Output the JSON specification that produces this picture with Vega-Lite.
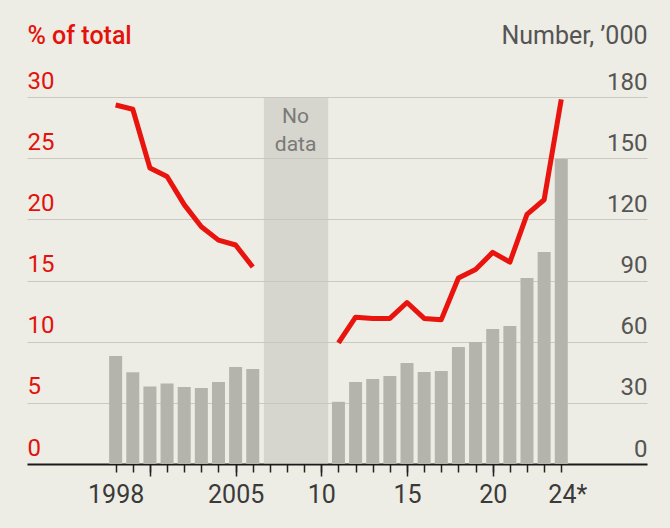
{
  "$schema": "https://vega.github.io/schema/vega-lite/v6.json",
  "description": "Share of total (red line, left axis) and number in thousands (grey bars, right axis), 1998-2024, with a gap for 2007-2010.",
  "autosize": "none",
  "width": 620,
  "height": 367,
  "padding": {"left": 27, "top": 97, "right": 23, "bottom": 64},
  "background": "#edece5",
  "datasets": {
    "series": [
      {"year": 1998, "seg": "a", "pct": 29.35, "num": 53},
      {"year": 1999, "seg": "a", "pct": 29.0, "num": 45},
      {"year": 2000, "seg": "a", "pct": 24.2, "num": 38},
      {"year": 2001, "seg": "a", "pct": 23.5, "num": 39.5},
      {"year": 2002, "seg": "a", "pct": 21.2, "num": 37.8},
      {"year": 2003, "seg": "a", "pct": 19.4, "num": 37.3},
      {"year": 2004, "seg": "a", "pct": 18.3, "num": 40.2},
      {"year": 2005, "seg": "a", "pct": 17.9, "num": 47.6},
      {"year": 2006, "seg": "a", "pct": 16.1, "num": 46.6},
      {"year": 2011, "seg": "b", "pct": 9.9, "num": 30.5},
      {"year": 2012, "seg": "b", "pct": 12.0, "num": 40.2},
      {"year": 2013, "seg": "b", "pct": 11.9, "num": 41.7},
      {"year": 2014, "seg": "b", "pct": 11.9, "num": 43.2},
      {"year": 2015, "seg": "b", "pct": 13.2, "num": 49.5},
      {"year": 2016, "seg": "b", "pct": 11.9, "num": 45.1},
      {"year": 2017, "seg": "b", "pct": 11.8, "num": 45.6},
      {"year": 2018, "seg": "b", "pct": 15.2, "num": 57.4},
      {"year": 2019, "seg": "b", "pct": 15.9, "num": 59.8},
      {"year": 2020, "seg": "b", "pct": 17.3, "num": 66.2},
      {"year": 2021, "seg": "b", "pct": 16.5, "num": 67.7},
      {"year": 2022, "seg": "b", "pct": 20.4, "num": 91.2},
      {"year": 2023, "seg": "b", "pct": 21.6, "num": 104},
      {"year": 2024, "seg": "b", "pct": 29.8, "num": 149.6}
    ],
    "gap": [
      {"start": 2006.65, "end": 2010.4, "mid": 2008.5, "low": 0, "high": 30, "label": "No data"}
    ]
  },
  "layer": [
    {
      "layer": [
        {
          "data": {"name": "gap"},
          "mark": {"type": "rect", "color": "#c6c6be", "opacity": 0.6},
          "encoding": {
            "x": {
              "field": "start",
              "type": "quantitative",
              "scale": {"domain": [1993.12, 2028.71], "nice": false, "zero": false},
              "axis": {
                "orient": "bottom",
                "values": [2000, 2005, 2010, 2015, 2020],
                "tickSize": 12,
                "tickWidth": 1.5,
                "tickColor": "#222222",
                "labels": false,
                "domain": false,
                "grid": false,
                "title": null
              }
            },
            "x2": {"field": "end"},
            "y": {
              "field": "low",
              "type": "quantitative",
              "scale": {"domain": [0, 30], "nice": false},
              "axis": {
                "orient": "left",
                "values": [0, 5, 10, 15, 20, 25, 30],
                "grid": true,
                "gridColor": "#c9c9c1",
                "gridWidth": 1.2,
                "ticks": false,
                "domain": false,
                "labelAlign": "left",
                "labelBaseline": "alphabetic",
                "labelPadding": 0,
                "labelOffset": -9,
                "labelFont": "Roboto",
                "labelFontSize": 24,
                "labelColor": "#e3120b",
                "title": "% of total",
                "titleAngle": 0,
                "titleX": 0,
                "titleY": -54,
                "titleAlign": "left",
                "titleBaseline": "alphabetic",
                "titleFont": "Roboto",
                "titleFontSize": 25,
                "titleFontWeight": 500,
                "titleColor": "#e3120b"
              }
            },
            "y2": {"field": "high"}
          }
        },
        {
          "data": {"name": "gap"},
          "mark": {"type": "text", "font": "Roboto", "fontSize": 21, "color": "#7a7a76", "baseline": "top", "dy": 9, "lineHeight": 28, "lineBreak": " "},
          "encoding": {
            "x": {"field": "mid", "type": "quantitative"},
            "y": {"field": "high", "type": "quantitative"},
            "text": {"field": "label"}
          }
        },
        {
          "data": {"name": "series"},
          "mark": {"type": "line", "color": "#e8140d", "strokeWidth": 5, "strokeJoin": "round", "strokeCap": "butt"},
          "encoding": {
            "x": {"field": "year", "type": "quantitative"},
            "y": {"field": "pct", "type": "quantitative"},
            "detail": {"field": "seg"}
          }
        }
      ]
    },
    {
      "data": {"name": "series"},
      "mark": {"type": "bar", "color": "#b4b4ac", "width": 13},
      "encoding": {
        "x": {
          "field": "year",
          "type": "quantitative",
          "axis": {
            "orient": "bottom",
            "values": [1998, 1999, 2000, 2001, 2002, 2003, 2004, 2005, 2006, 2007, 2008, 2009, 2010, 2011, 2012, 2013, 2014, 2015, 2016, 2017, 2018, 2019, 2020, 2021, 2022, 2023, 2024],
            "format": "d",
            "labelExpr": "datum.value == 1998 || datum.value == 2005 ? '' + datum.value : datum.value == 2024 ? '24*' : (datum.value == 2010 || datum.value == 2015 || datum.value == 2020) ? slice('' + datum.value, 2) : ''",
            "labelOffset": {"condition": {"test": "datum.value == 2024", "value": 6}, "value": 0},
            "tickSize": 8,
            "tickWidth": 1.5,
            "tickColor": "#222222",
            "domainColor": "#1a1a1a",
            "domainWidth": 2,
            "grid": false,
            "labelPadding": 10,
            "labelFont": "Roboto",
            "labelFontSize": 25,
            "labelColor": "#3a3a38",
            "labelFlush": false,
            "labelOverlap": false,
            "title": null
          }
        },
        "y": {
          "field": "num",
          "type": "quantitative",
          "scale": {"domain": [0, 180], "nice": false},
          "axis": {
            "orient": "right",
            "values": [0, 30, 60, 90, 120, 150, 180],
            "grid": false,
            "ticks": false,
            "domain": false,
            "labelAlign": "right",
            "labelBaseline": "alphabetic",
            "labelPadding": 0,
            "labelOffset": -8,
            "labelFont": "Roboto",
            "labelFontSize": 24,
            "labelColor": "#555553",
            "title": "Number, ’000",
            "titleAngle": 0,
            "titleX": 0,
            "titleY": -54,
            "titleAlign": "right",
            "titleBaseline": "alphabetic",
            "titleFont": "Roboto",
            "titleFontSize": 25,
            "titleFontWeight": "normal",
            "titleColor": "#555553"
          }
        }
      }
    }
  ],
  "resolve": {"scale": {"y": "independent"}, "axis": {"x": "independent"}},
  "config": {"view": {"stroke": null}}
}
